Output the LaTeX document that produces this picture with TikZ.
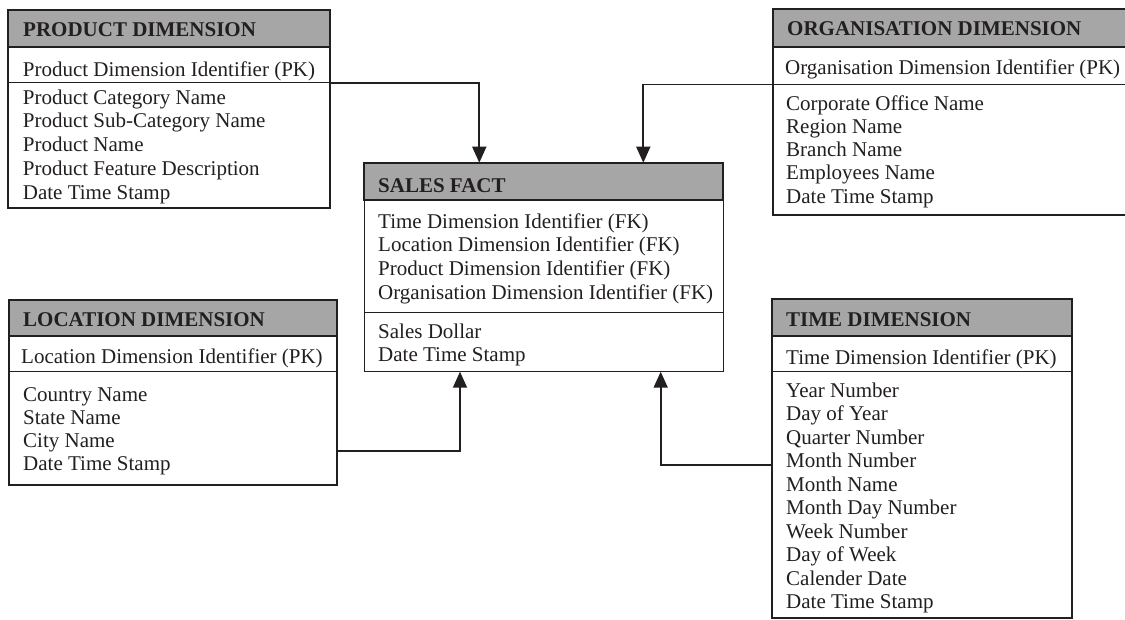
\documentclass[tikz,border=0pt]{standalone}
\usepackage{fontspec}
\setmainfont{Liberation Serif}
\usetikzlibrary{arrows.meta}
\definecolor{ink}{HTML}{231F20}
\definecolor{headgray}{HTML}{A6A6A6}
\newcommand\rowfont{\fontsize{21}{23.7}\selectfont}
\newcommand\headfont{\fontsize{21}{23.7}\selectfont\bfseries}
\tikzset{
  tablebox/.style={draw=ink, line width=1.5pt, fill=white},
  headbox/.style={draw=ink, line width=1.9pt, fill=headgray},
  rowtext/.style={anchor=base west, inner sep=0pt, font=\rowfont, text=ink},
  headtext/.style={anchor=base west, inner sep=0pt, font=\headfont, text=ink},
  rowrule/.style={draw=ink, line width=0.9pt},
  link/.style={draw=ink, line width=1.7pt, -{Triangle[width=14pt,length=16pt]}},
}
\begin{document}
\begin{tikzpicture}[x=1pt,y=-1pt]
\useasboundingbox (0,0) rectangle (1125,619);

% ---------- PRODUCT DIMENSION ----------
\draw[tablebox] (8,10) rectangle (330,208);
\draw[headbox] (8,10) rectangle (330,47);
\coordinate (prodruleW) at (8,82.7);
\coordinate (prodruleE) at (330,82.7);
\draw[rowrule] (prodruleW) -- (prodruleE);
\node[headtext] (prodhead) at (23,36.7) {PRODUCT DIMENSION};
\node[rowtext] (prodpk) at (22.7,76) {Product Dimension Identifier (PK)};
\foreach \t [count=\i from 0] in {Product Category Name,Product Sub-Category Name,Product Name,Product Feature Description,Date Time Stamp}
  \node[rowtext] (prod-\i) at (22.7,104+23.8*\i) {\t};

% ---------- ORGANISATION DIMENSION ----------
\draw[tablebox] (773,9) rectangle (1135,215);
\draw[headbox] (773,9) rectangle (1135,47);
\coordinate (orgruleW) at (773,84.5);
\coordinate (orgruleE) at (1135,84.5);
\draw[rowrule] (orgruleW) -- (orgruleE);
\node[headtext] (orghead) at (787,35) {ORGANISATION DIMENSION};
\node[rowtext] (orgpk) at (785,74) {Organisation Dimension Identifier (PK)};
\foreach \t [count=\i from 0] in {Corporate Office Name,Region Name,Branch Name,Employees Name,Date Time Stamp}
  \node[rowtext] (org-\i) at (786,110+23.3*\i) {\t};

% ---------- SALES FACT ----------
\draw[tablebox] (364.3,162.7) rectangle (723.3,371.7);
\draw[headbox] (364.3,162.7) rectangle (723.3,200);
\draw[rowrule] (364.3,312) -- (723.3,312);
\node[headtext] (saleshead) at (378,192) {SALES FACT};
\foreach \t [count=\i from 0] in {Time Dimension Identifier (FK),Location Dimension Identifier (FK),Product Dimension Identifier (FK),Organisation Dimension Identifier (FK)}
  \node[rowtext] (salesfk-\i) at (378,228+23.8*\i) {\t};
\node[rowtext] (sales-0) at (378,338) {Sales Dollar};
\node[rowtext] (sales-1) at (378,361.7) {Date Time Stamp};
\coordinate (salesTL) at (364.3,162.7);
\coordinate (salesBL) at (364.3,371.7);

% ---------- LOCATION DIMENSION ----------
\draw[tablebox] (9,300) rectangle (337,485);
\draw[headbox] (9,300) rectangle (337,336);
\draw[rowrule] (9,371.5) -- (337,371.5);
\node[headtext] (lochead) at (23,326) {LOCATION DIMENSION};
\node[rowtext] (locpk) at (21,363) {Location Dimension Identifier (PK)};
\foreach \t [count=\i from 0] in {Country Name,State Name,City Name,Date Time Stamp}
  \node[rowtext] (loc-\i) at (23,401+23*\i) {\t};
\coordinate (loclink) at (337,450.7);

% ---------- TIME DIMENSION ----------
\draw[tablebox] (772,299) rectangle (1072,618);
\draw[headbox] (772,299) rectangle (1072,336);
\draw[rowrule] (772,371) -- (1072,371);
\node[headtext] (timehead) at (786,326.7) {TIME DIMENSION};
\node[rowtext] (timepk) at (786,364) {Time Dimension Identifier (PK)};
\foreach \t [count=\i from 0] in {Year Number,Day of Year,Quarter Number,Month Number,Month Name,Month Day Number,Week Number,Day of Week,Calender Date,Date Time Stamp}
  \node[rowtext] (time-\i) at (786,397+23.55*\i) {\t};
\coordinate (timelink) at (772,465.3);

% ---------- connectors ----------
\coordinate (prodbend) at (479.3,82.7);
\coordinate (orgbend) at (643.3,84.5);
\coordinate (locbend) at (460,450.7);
\coordinate (timebend) at (660.7,465.3);
\draw[link] (prodruleE) -- (prodbend) -- (prodbend |- salesTL);
\draw[link] (orgruleW) -- (orgbend) -- (orgbend |- salesTL);
\draw[link] (loclink) -- (locbend) -- (locbend |- salesBL);
\draw[link] (timelink) -- (timebend) -- (timebend |- salesBL);
\end{tikzpicture}
\end{document}
